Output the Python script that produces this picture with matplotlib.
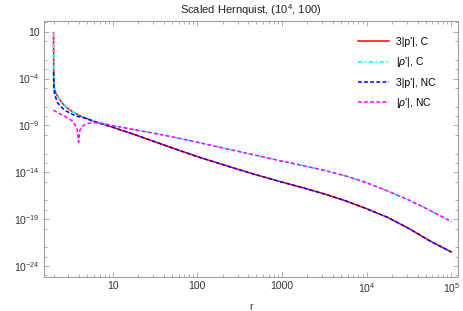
import numpy as np
import matplotlib
matplotlib.use("Agg")
import matplotlib.pyplot as plt
from matplotlib.ticker import FixedLocator, NullFormatter

plt.rcParams['font.family'] = ['Liberation Sans', 'DejaVu Sans']
plt.rcParams['mathtext.fontset'] = 'custom'
plt.rcParams['mathtext.rm'] = 'Liberation Sans'
plt.rcParams['mathtext.it'] = 'Liberation Sans:italic'

# radius samples
r = [2.0, 2.003, 2.01, 2.04, 2.1, 2.24, 2.45, 2.7, 3.0, 3.3, 3.6, 3.8, 3.95,
     4.1, 4.3, 4.7, 5.1, 5.8, 6.7, 8.0, 10, 17.8, 31.6, 56.2, 100, 178, 316,
     562, 1000, 1778, 3162, 5623, 10000, 17783, 31623, 56234, 100000]

# log10 of each quantity
log_p_c = [0.9, -2.0, -3.8, -5.0, -5.4, -5.94, -6.45, -6.9, -7.25, -7.5, -7.7,
           -7.8, -7.9, -7.97, -8.05, -8.2, -8.33, -8.52, -8.71, -8.92, -9.2,
           -9.95, -10.75, -11.55, -12.33, -13.04, -13.74, -14.41, -15.05,
           -15.66, -16.31, -17.04, -17.89, -18.82, -20.0, -21.33, -22.5]
log_rho_c = [0.9, -2.0, -3.8, -5.0, -5.4, -5.94, -6.45, -6.9, -7.25, -7.5, -7.7,
             -7.8, -7.9, -7.97, -8.05, -8.2, -8.33, -8.52, -8.7, -8.84, -9.02,
             -9.44, -9.86, -10.31, -10.8, -11.3, -11.8, -12.31, -12.81,
             -13.29, -13.8, -14.38, -15.12, -16.0, -16.97, -18.07, -19.25]
log_p_nc = [-3.3, -4.0, -4.7, -5.5, -5.94, -6.6, -7.0, -7.38, -7.6, -7.8, -7.95,
            -8.02, -8.07, -8.1, -8.12, -8.22, -8.33, -8.52, -8.71, -8.92, -9.2,
            -9.95, -10.75, -11.55, -12.33, -13.04, -13.74, -14.41, -15.05,
            -15.66, -16.31, -17.04, -17.89, -18.82, -20.0, -21.33, -22.5]
log_rho_nc = [-7.35, -7.36, -7.38, -7.42, -7.5, -7.63, -7.83, -8.02, -8.25, -8.5,
              -8.95, -9.4, -10.8, -9.5, -9.15, -8.92, -8.8, -8.72, -8.71, -8.84,
              -9.02, -9.44, -9.86, -10.31, -10.8, -11.3, -11.8, -12.31, -12.81,
              -13.29, -13.8, -14.38, -15.12, -16.0, -16.97, -18.07, -19.25]

labels = ["3|p'|, C", "|$\\rho$'|, C", "3|p'|, NC", "|$\\rho$'|, NC"]

xmajor = [10, 100, 1000, 1e4, 1e5]
xmajor_labels = ["10", "100", "1000", "$10^4$", "$10^5$"]
ymajor = [1, -4, -9, -14, -19, -24]
yminor = [2, 0, -2, -3, -5, -7, -8, -10, -12, -13, -15, -17, -18, -20, -22,
          -23, -25]

fig = plt.figure(figsize=(4.63, 3.11), dpi=100)
ax = fig.add_axes([44 / 463, 1 - 276.7 / 311, 414 / 463, 256 / 311])

r = np.array(r)
ax.plot(r, 10.0 ** np.array(log_p_c), color='#ff0000', lw=1.1, label=labels[0])
ax.plot(r, 10.0 ** np.array(log_rho_c), color='#00ffff', lw=1.1,
        dashes=(3, 1.5, 1, 1.5), label=labels[1])
ax.plot(r, 10.0 ** np.array(log_p_nc), color='#0000ff', lw=1.1,
        dashes=(2.5, 1.5), label=labels[2])
ax.plot(r, 10.0 ** np.array(log_rho_nc), color='#ff00ff', lw=1.1,
        dashes=(2.5, 1.5), label=labels[3])

ax.set_xscale('log')
ax.set_yscale('log')
ax.set_xlim(10 ** 0.188, 10 ** 5.08)
ax.set_ylim(10 ** -25.14, 10 ** 2.17)

ax.xaxis.set_major_locator(FixedLocator(xmajor))
ax.set_xticklabels(xmajor_labels)
xminor = [m * 10 ** k for k in range(0, 6) for m in range(2, 10)]
ax.xaxis.set_minor_locator(FixedLocator(xminor))
ax.xaxis.set_minor_formatter(NullFormatter())

ax.yaxis.set_major_locator(FixedLocator([10.0 ** e for e in ymajor]))
ax.set_yticklabels(["10"] + ["$10^{%d}$" % e for e in ymajor[1:]])
ax.yaxis.set_minor_locator(FixedLocator([10.0 ** e for e in yminor]))
ax.yaxis.set_minor_formatter(NullFormatter())

for s in ax.spines.values():
    s.set_color('#a0a0a0')
    s.set_linewidth(0.8)
ax.tick_params(which='both', direction='in', top=True, right=True,
               color='#a0a0a0', width=0.6, labelsize=7.5, labelcolor='#333333',
               pad=3)
ax.tick_params(which='major', length=3.5)
ax.tick_params(which='minor', length=2)

ax.set_xlabel('r', fontsize=7.5, color='#333333', labelpad=5)
ax.set_title('Scaled Hernquist, (10$^4$, 100)', fontsize=8, color='#222222',
             pad=5)

ax.legend(loc='upper left', bbox_to_anchor=(358 / 463, 1 - 37 / 311),
          bbox_transform=fig.transFigure, frameon=False, fontsize=7.5,
          handlelength=3.0, handletextpad=0.6, labelspacing=0.8,
          borderpad=0, borderaxespad=0)

fig.savefig('out.png', dpi=100)
